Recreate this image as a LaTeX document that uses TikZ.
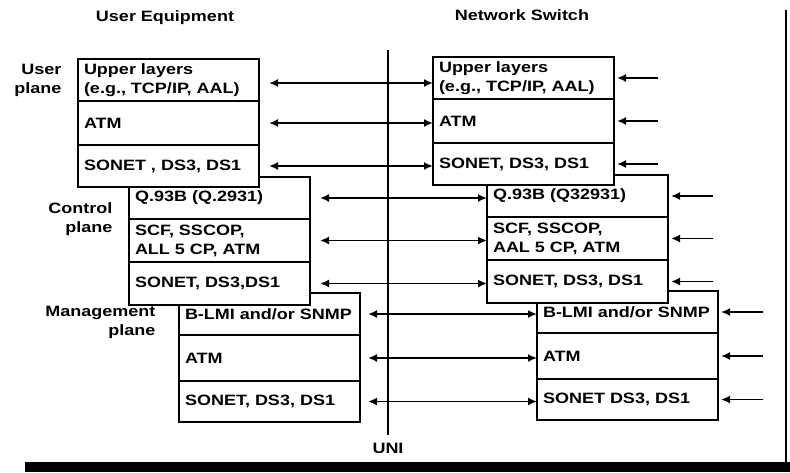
\documentclass[tikz,border=0pt]{standalone}
\usepackage{fontspec}
\setmainfont{Liberation Sans}[FakeStretch=1.2]
\usetikzlibrary{positioning, arrows.meta}

\begin{document}
\begin{tikzpicture}[
    x=1pt, y=-1pt,
    font=\fontsize{15}{19}\selectfont\bfseries,
    layer/.style={rectangle, draw, fill=white, line width=1.7pt, outer sep=0pt,
      anchor=north west, minimum width=181pt, text width=169pt, inner xsep=6pt, align=left},
    dbl/.style={{Latex[length=9pt, width=8pt]}-{Latex[length=9pt, width=8pt]}, line width=1.7pt},
    inarr/.style={-{Latex[length=9pt, width=8pt]}, line width=1.7pt, shorten >=3pt},
    lbl/.style={align=right, anchor=east},
  ]
    \useasboundingbox (0,0) rectangle (790,472);

    % Headers
    \node (ue) at (165,18) {User Equipment};
    \node (ns) at (522,15) {Network Switch};

    % Management plane (drawn first, lies underneath)
    \node[layer, minimum height=42pt] (um1) at (179,293) {B-LMI and/or SNMP};
    \node[layer, minimum height=46pt, below=0pt of um1] (um2) {ATM};
    \node[layer, minimum height=41pt, below=0pt of um2] (um3) {SONET, DS3, DS1};
    \node[layer, minimum height=42pt] (nm1) at (537,291) {B-LMI and/or SNMP};
    \node[layer, minimum height=46pt, below=0pt of nm1] (nm2) {ATM};
    \node[layer, minimum height=41pt, below=0pt of nm2] (nm3) {SONET DS3, DS1};

    % Control plane
    \node[layer, minimum height=42pt] (uc1) at (129,177) {Q.93B (Q.2931)};
    \node[layer, minimum height=43pt, below=0pt of uc1] (uc2) {SCF, SSCOP,\\ALL 5 CP, ATM};
    \node[layer, minimum height=43pt, below=0pt of uc2] (uc3) {SONET, DS3,DS1};
    \node[layer, minimum height=42pt] (nc1) at (487,175) {Q.93B (Q32931)};
    \node[layer, minimum height=43pt, below=0pt of nc1] (nc2) {SCF, SSCOP,\\AAL 5 CP, ATM};
    \node[layer, minimum height=43pt, below=0pt of nc2] (nc3) {SONET, DS3, DS1};

    % User plane (on top)
    \node[layer, minimum height=42pt] (uu1) at (78,59) {Upper layers\\(e.g., TCP/IP, AAL)};
    \node[layer, minimum height=44pt, below=0pt of uu1] (uu2) {ATM};
    \node[layer, minimum height=42pt, below=0pt of uu2] (uu3) {SONET , DS3, DS1};
    \node[layer, minimum height=42pt] (nu1) at (433,57) {Upper layers\\(e.g., TCP/IP, AAL)};
    \node[layer, minimum height=44pt, below=0pt of nu1] (nu2) {ATM};
    \node[layer, minimum height=42pt, below=0pt of nu2] (nu3) {SONET, DS3, DS1};

    % Plane labels
    \node[lbl, left=13pt of uu1.west] (lup) {User\\plane};
    \node[lbl, left=13pt of uc1.south west] (lcp) {Control\\plane};
    \node[lbl, left=20pt of um1.west, yshift=-8pt] (lmp) {Management\\plane};

    % UNI
    \coordinate (unitop) at (388,50);
    \node (uni) at (388,448) {UNI};
    \draw[line width=1.7pt, shorten >=4pt] (unitop) -- (uni.north);

    % Peer arrows across the UNI
    \draw[dbl, shorten <=10pt] ([yshift=-3pt]uu1.east) -- ([yshift=-3pt]uu1.east -| nu1.west);
    \draw[dbl, shorten <=10pt] (uu2.east) -- (uu2.east -| nu2.west);
    \draw[dbl, shorten <=10pt] (uu3.east) -- (uu3.east -| nu3.west);
    \draw[dbl, shorten <=10pt] (uc1.east) -- (uc1.east -| nc1.west);
    \draw[dbl, shorten <=10pt] (uc2.east) -- (uc2.east -| nc2.west);
    \draw[dbl, shorten <=10pt] (uc3.east) -- (uc3.east -| nc3.west);
    \draw[dbl, shorten <=8pt] (um1.east) -- (um1.east -| nm1.west);
    \draw[dbl, shorten <=8pt] (um2.east) -- (um2.east -| nm2.west);
    \draw[dbl, shorten <=8pt] (um3.east) -- (um3.east -| nm3.west);

    % Incoming arrows on the switch side
    \coordinate (inu1) at ([xshift=44pt]nu1.east);
    \coordinate (inu2) at ([xshift=44pt]nu2.east);
    \coordinate (inu3) at ([xshift=44pt]nu3.east);
    \coordinate (inc1) at ([xshift=45pt]nc1.east);
    \coordinate (inc2) at ([xshift=45pt]nc2.east);
    \coordinate (inc3) at ([xshift=45pt]nc3.east);
    \coordinate (inm1) at ([xshift=45pt]nm1.east);
    \coordinate (inm2) at ([xshift=45pt]nm2.east);
    \coordinate (inm3) at ([xshift=45pt]nm3.east);
    \draw[inarr] (inu1) -- (nu1.east);
    \draw[inarr] (inu2) -- (nu2.east);
    \draw[inarr] (inu3) -- (nu3.east);
    \draw[inarr] (inc1) -- (nc1.east);
    \draw[inarr] (inc2) -- (nc2.east);
    \draw[inarr] (inc3) -- (nc3.east);
    \draw[inarr] (inm1) -- (nm1.east);
    \draw[inarr] (inm2) -- (nm2.east);
    \draw[inarr] (inm3) -- (nm3.east);

    % Page edge and bottom band
    \draw[line width=2pt] (786,10) -- (786,463);
    \fill[black] (25,462) rectangle (790,472);
  \end{tikzpicture}
\end{document}
